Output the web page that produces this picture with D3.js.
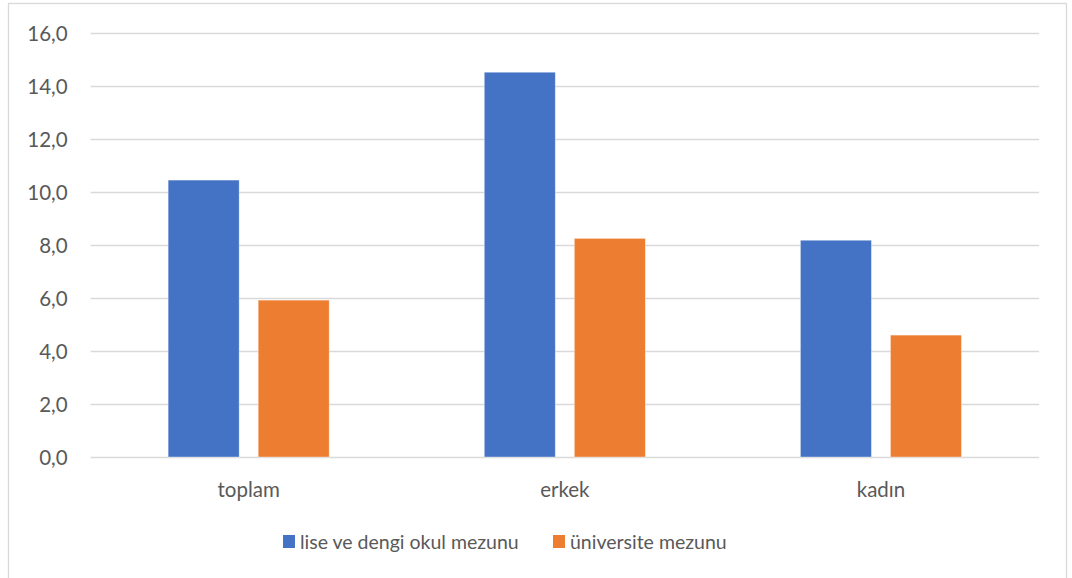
<!DOCTYPE html>
<html><head><meta charset="utf-8">
<script src="https://cdn.jsdelivr.net/npm/d3@7"></script>
<style>body{margin:0;background:#fff}svg{display:block}text{font-family:Lato,"Open Sans",sans-serif;fill:#595959}</style>
</head><body>
<script>
const categories = ["toplam", "erkek", "kadın"];
const seriesNames = ["lise ve dengi okul mezunu", "üniversite mezunu"];
const liseValues = [10.45, 14.52, 8.18];
const universiteValues = [5.92, 8.25, 4.60];
const yTicks = [0, 2, 4, 6, 8, 10, 12, 14, 16];
const colors = ["#4472C4", "#ED7D31"];

const W = 1072, H = 578;
const svg = d3.select("body").append("svg").attr("width", W).attr("height", H);
svg.append("rect").attr("x", 8.5).attr("y", 3.5).attr("width", 1058).attr("height", 600)
  .attr("fill", "#fff").attr("stroke", "#d9d9d9").attr("stroke-width", 1.3);

const plot = {left: 90.6, right: 1039, top: 33, bottom: 457};
const y = d3.scaleLinear().domain([0, 16]).range([plot.bottom, plot.top]);
const x0 = d3.scaleBand().domain(categories).range([plot.left, plot.right]).paddingInner(0).paddingOuter(0);
const bw = x0.bandwidth();
const barW = bw * 71 / 316, gap = bw * 19 / 316;
const x1 = d3.scaleBand().domain(seriesNames).range([0, 2 * barW + gap]).paddingInner(gap / (barW + gap)).paddingOuter(0);
const groupOffset = (bw - (2 * barW + gap)) / 2;

// gridlines
const yAxis = d3.axisLeft(y).tickValues(yTicks).tickSize(-(plot.right - plot.left)).tickFormat(d => d3.format(".1f")(d).replace(".", ","));
const gy = svg.append("g").attr("transform", `translate(${plot.left},0)`).call(yAxis);
gy.select(".domain").remove();
gy.selectAll(".tick line").attr("stroke", "#d9d9d9").attr("stroke-width", 1.5);
gy.selectAll(".tick text").attr("x", -23).attr("dy", "0.35em").style("font-size", "20.5px");

const data = categories.map((c, i) => ({cat: c, vals: [liseValues[i], universiteValues[i]]}));
const groups = svg.append("g").selectAll("g").data(data).join("g")
  .attr("transform", d => `translate(${x0(d.cat) + groupOffset},0)`);
groups.selectAll("rect").data(d => d.vals.map((v, j) => ({s: seriesNames[j], v, j}))).join("rect")
  .attr("x", d => x1(d.s)).attr("width", x1.bandwidth())
  .attr("y", d => y(d.v)).attr("height", d => y(0) - y(d.v))
  .attr("fill", d => colors[d.j]).attr("stroke", "#fff").attr("stroke-opacity", 0.5).attr("stroke-width", 0.75);

// x axis labels
const xAxis = d3.axisBottom(x0).tickSize(0).tickPadding(0);
const gx = svg.append("g").attr("transform", `translate(0,${plot.bottom})`).call(xAxis);
gx.select(".domain").remove();
gx.selectAll(".tick text").attr("y", 33).attr("dy", "0.35em").style("font-size", "20.5px");

// legend
const legendItems = [{name: seriesNames[0], x: 283}, {name: seriesNames[1], x: 553}];
const lg = svg.append("g").selectAll("g").data(legendItems).join("g")
  .attr("transform", d => `translate(${d.x},0)`);
lg.append("rect").attr("x", 0).attr("y", 535).attr("width", 12).attr("height", 13)
  .attr("fill", (d, i) => colors[i]);
lg.append("text").attr("x", 17).attr("y", 542).attr("dy", "0.35em").style("font-size", "19.5px").text(d => d.name);
</script>
</body></html>
